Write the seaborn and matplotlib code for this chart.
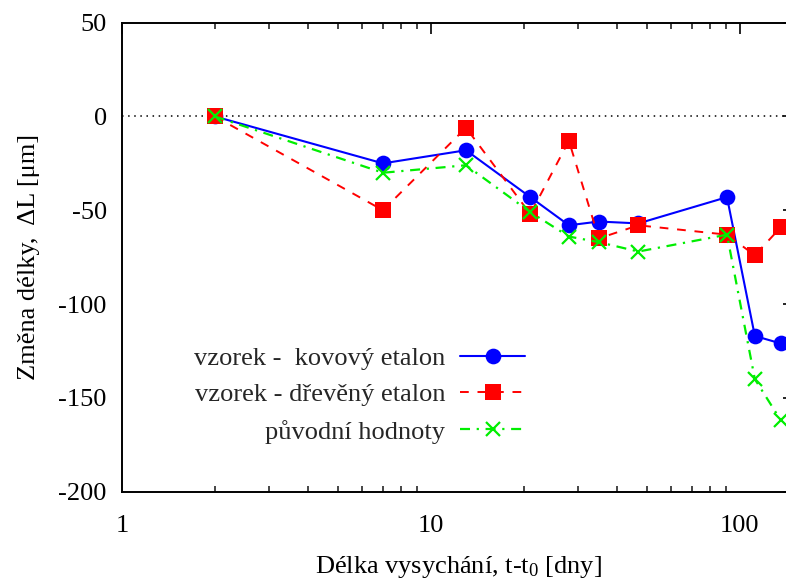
import matplotlib
matplotlib.use("Agg")
import matplotlib.pyplot as plt
import seaborn as sns
import numpy as np
import pandas as pd
from matplotlib.ticker import LogLocator, FixedLocator, NullFormatter, FixedFormatter

# drying time [days]
days = [2, 7, 13, 21, 28, 35, 47, 91, 112, 136]
# length change [um]
metal_ref = [0, -25, -18, -43, -58, -56, -57, -43, -117, -121]
wood_ref = [0, -50, -6, -52, -13, -65, -58, -63, -74, -59]
raw_values = [0, -30, -26, -51, -64, -67, -72, -63, -140, -162]

labels = ["vzorek -  kovový etalon", "vzorek - dřevěný etalon", "původní hodnoty"]
y_ticks = [-200, -150, -100, -50, 0, 50]
x_ticks = [1, 10, 100]

sns.set_theme(style="white")
plt.rcParams["font.family"] = ["Liberation Serif", "DejaVu Serif"]
plt.rcParams["mathtext.fontset"] = "custom"
plt.rcParams["mathtext.rm"] = "Liberation Serif"
plt.rcParams["mathtext.it"] = "Liberation Serif:italic"
plt.rcParams["axes.unicode_minus"] = False

FS = 19

fig = plt.figure(figsize=(7.86, 5.81), dpi=100)
ax = fig.add_axes([0.1552, 0.1537, 0.855, 0.8073])
ax.set_xscale("log")

df = pd.DataFrame({"days": days, "metal": metal_ref, "wood": wood_ref, "raw": raw_values})

ax.axhline(0, color="black", lw=1.1, ls=(0, (1, 3)), zorder=1)

blue, red, green = "#0000ff", "#ff0000", "#00ee00"
sns.lineplot(data=df, x="days", y="metal", ax=ax, color=blue, lw=1.5,
             marker="o", markersize=11.3, markeredgewidth=0, markeredgecolor=blue,
             label=labels[0], zorder=3)
sns.lineplot(data=df, x="days", y="wood", ax=ax, color=red, lw=1.4,
             linestyle=(0, (4.5, 4.5)), marker="s", markersize=11.5, markeredgewidth=0,
             markeredgecolor=red, label=labels[1], zorder=4)
sns.lineplot(data=df, x="days", y="raw", ax=ax, color=green, lw=1.6,
             linestyle=(0, (4.5, 3, 1, 3)), marker="x", markersize=10, markeredgewidth=1.6,
             markeredgecolor=green, label=labels[2], zorder=5)

ax.set_xlim(1, 150)
ax.set_ylim(-200, 50)
ax.yaxis.set_major_locator(FixedLocator(y_ticks))
ax.xaxis.set_major_locator(FixedLocator(x_ticks))
ax.xaxis.set_major_formatter(FixedFormatter([str(v) for v in x_ticks]))
ax.xaxis.set_minor_locator(LogLocator(base=10, subs=np.arange(2, 10), numticks=20))
ax.xaxis.set_minor_formatter(NullFormatter())

for s in ax.spines.values():
    s.set_visible(True)
    s.set_color("black")
    s.set_linewidth(1.4)

ax.tick_params(axis="both", which="major", direction="in", length=8, width=1.2,
               top=True, right=True, labelsize=FS, colors="black")
ax.tick_params(axis="x", which="major", pad=17)
ax.tick_params(axis="y", which="major", pad=11)
ax.tick_params(axis="x", which="minor", direction="in", length=4.5, width=1.2,
               top=True, bottom=True)

ax.set_xlabel("Délka vysychání, t-t$_0$ [dny]", fontsize=FS, color="black", labelpad=12)
ax.set_ylabel("Změna délky,  ΔL [μm]", fontsize=FS, color="black", labelpad=13)

# labels to the left of the samples, right-aligned against them
ax.legend(loc="upper right", bbox_to_anchor=(0.6, 0.310), frameon=False,
          markerfirst=False, fontsize=FS, handlelength=2.46, handletextpad=0.57,
          labelspacing=0.5, borderpad=0, borderaxespad=0)

fig.savefig("out.png", dpi=100)
